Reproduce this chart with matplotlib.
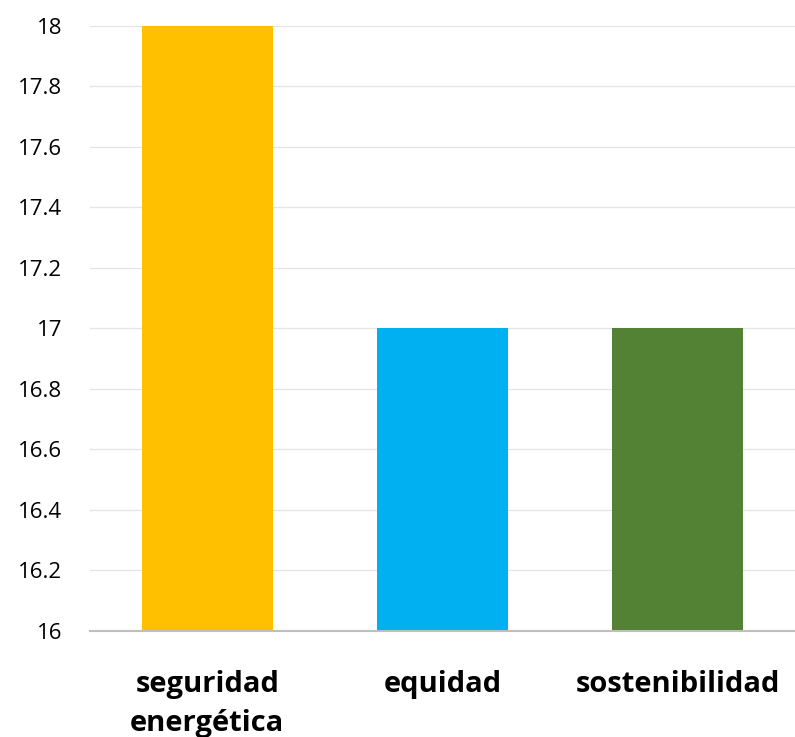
import matplotlib
matplotlib.use("Agg")
import matplotlib.pyplot as plt

# chart data
categories = ["seguridad\nenergética", "equidad", "sostenibilidad"]
values = [18, 17, 17]
bar_colors = ["#FFC000", "#00B0F0", "#548235"]
y_ticks = [16, 16.2, 16.4, 16.6, 16.8, 17, 17.2, 17.4, 17.6, 17.8, 18]
y_tick_labels = ["16", "16.2", "16.4", "16.6", "16.8", "17", "17.2", "17.4", "17.6", "17.8", "18"]

plt.rcParams["font.family"] = ["Open Sans", "DejaVu Sans"]

fig = plt.figure(figsize=(7.95, 7.37), dpi=100)
ax = fig.add_axes([0.113, 0.144, 0.887, 0.821])

x = range(len(categories))
ax.bar(x, values, width=0.56, color=bar_colors, zorder=3)

ax.set_xlim(-0.5, 2.5)
ax.set_ylim(16, 18)
ax.set_yticks(y_ticks)
ax.set_yticklabels(y_tick_labels, fontsize=16)
ax.set_xticks(list(x))
ax.set_xticklabels(categories, fontsize=21, fontweight="bold", linespacing=1.45)

ax.grid(axis="y", color="#E4E4E4", linewidth=0.9, zorder=0)
for side in ["top", "right", "left"]:
    ax.spines[side].set_visible(False)
ax.spines["bottom"].set_color("#BFBFBF")
ax.spines["bottom"].set_linewidth(1.5)
ax.spines["bottom"].set_zorder(4)
ax.tick_params(axis="both", length=0)
ax.tick_params(axis="y", pad=20)
ax.tick_params(axis="x", pad=28)

fig.savefig("out.png", dpi=100)
